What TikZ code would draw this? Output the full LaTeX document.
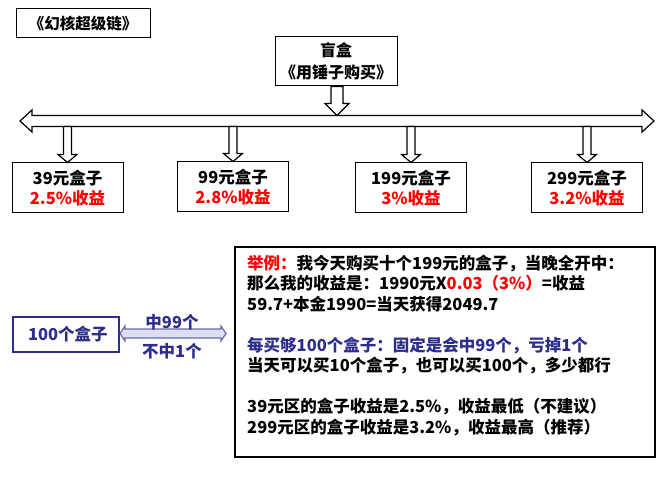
\documentclass[tikz,border=0pt]{standalone}
\usepackage{fontspec}
\setmainfont{Noto Sans CJK SC}
\usepackage{tikz}
\usetikzlibrary{calc,positioning}
\definecolor{boxnavy}{RGB}{45,45,140}
\definecolor{arrline}{RGB}{105,105,175}
\definecolor{arrfill}{RGB}{222,222,242}
\definecolor{hitred}{RGB}{255,0,0}

\newcommand{\blockdown}[5]{%
  \draw[blockarr] let \p1=#1, \p2=#2 in
    (\x2-#3,\y1) -- (\x2+#3,\y1) -- (\x2+#3,\y2+#5) -- (\x2+#4,\y2+#5) -- (\x2,\y2)
    -- (\x2-#4,\y2+#5) -- (\x2-#3,\y2+#5) -- cycle;}

\begin{document}
\begin{tikzpicture}[x=1pt,y=-1pt,
    pricebox/.style={draw, line width=1pt, minimum width=111pt, minimum height=50pt, align=center, font=\fontsize{16.5}{20}\selectfont\bfseries},
    blockarr/.style={draw, line width=1.2pt, fill=white, line join=miter},
    navyarr/.style={draw=arrline, line width=1.2pt, fill=arrfill},
    navylbl/.style={text=boxnavy, font=\fontsize{16.5}{20}\selectfont\bfseries}]
    \useasboundingbox (0,0) rectangle (672,502);

    \node[draw, line width=1pt, minimum width=134pt, minimum height=29pt, font=\fontsize{15.5}{18}\selectfont\bfseries] (title) at (83,23.5) {《幻核超级链》};
    \node[draw, line width=1pt, minimum width=122pt, minimum height=49pt, align=center, font=\fontsize{16}{22}\selectfont\bfseries] (pkg) at (336,61.5) {盲盒\\《用锤子购买》};

    \coordinate (barL) at (20,121);
    \coordinate (barR) at (654,121);
    \coordinate (barT) at (337,115.5);
    \coordinate (barB) at (336,126.5);
    \draw[blockarr] (barL) -- ++(12,-11) -- ++(0,5.5) -- ($(barR)+(-12,-5.5)$) -- ++(0,-5.5) -- (barR)
        -- ++(-12,11) -- ++(0,-5.5) -- ($(barL)+(12,5.5)$) -- ++(0,5.5) -- cycle;
    \blockdown{(pkg.south)}{(barT)}{6pt}{12pt}{12pt}

    \node[pricebox] (b39) at (67.5,188) {39元盒子\\\textcolor{hitred}{2.5\%收益}};
    \node[pricebox] (b99) at (233,187) {99元盒子\\\textcolor{hitred}{2.8\%收益}};
    \node[pricebox] (b199) at (411,188) {199元盒子\\\textcolor{hitred}{3\%收益}};
    \node[pricebox] (b299) at (587,188) {299元盒子\\\textcolor{hitred}{3.2\%收益}};
    \foreach \b in {b39,b99,b199,b299}
        \blockdown{(barB)}{(\b.north)}{4pt}{9.5pt}{8pt};

    \node[draw=boxnavy, line width=2pt, minimum width=106pt, minimum height=35pt, text=boxnavy, font=\fontsize{16.5}{20}\selectfont\bfseries] (box100) at (66,334.5) {~100个盒子};
    \coordinate (mEnd) at (226,333.5);
    \draw[navyarr] let \p1=(box100.east), \p2=(mEnd) in
        (\x1,\y2) -- (\x1+5pt,\y2+7.5pt) -- (\x1+5pt,\y2+4.5pt) -- (\x2-5pt,\y2+4.5pt) -- (\x2-5pt,\y2+7.5pt) -- (\p2)
        -- (\x2-5pt,\y2-7.5pt) -- (\x2-5pt,\y2-4.5pt) -- (\x1+5pt,\y2-4.5pt) -- (\x1+5pt,\y2-7.5pt) -- cycle;
    \node[navylbl] (hit) at (172,322) {中99个};
    \node[navylbl] (miss) at (172,351) {不中1个};

    \node[draw, line width=2pt, minimum width=420pt, minimum height=210pt] (ex) at (445,352) {};
    \node[anchor=north west, inner sep=0pt, align=left, font=\fontsize{16.5}{20.5}\selectfont\bfseries] (extxt) at (247,254.5) {%
        \textcolor{hitred}{举例：}我今天购买十个199元的盒子，当晚全开中：\\
        那么我的收益是：1990元X\textcolor{hitred}{0.03（3\%）}=收益\\
        59.7+本金1990=当天获得2049.7\\[20.5pt]
        \textcolor{boxnavy}{每买够100个盒子：固定是会中99个，亏掉1个}\\
        当天可以买10个盒子，也可以买100个，多少都行\\[20.5pt]
        39元区的盒子收益是2.5\%，收益最低（不建议）\\
        299元区的盒子收益是3.2\%，收益最高（推荐）};
\end{tikzpicture}
\end{document}
